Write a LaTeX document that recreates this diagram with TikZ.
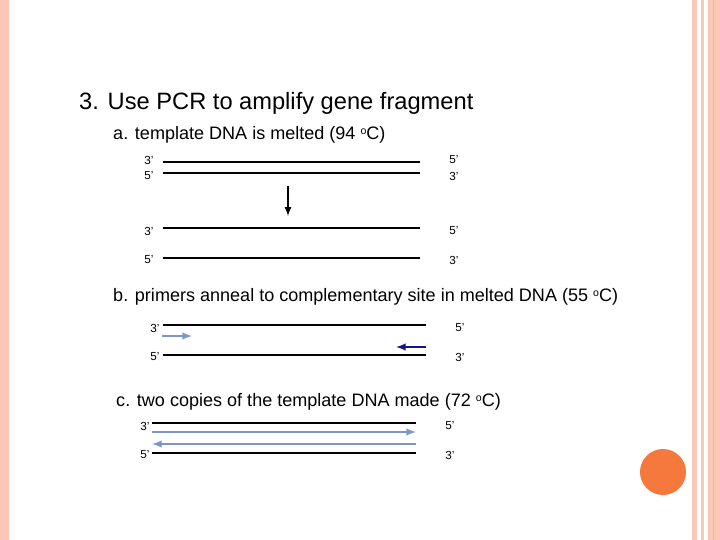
\documentclass[tikz,border=0pt]{standalone}
\usepackage{fontspec}
\setmainfont{Liberation Sans}
\usetikzlibrary{positioning}
\definecolor{peach}{RGB}{250,200,180}
\definecolor{primer}{RGB}{125,150,195}
\definecolor{navyp}{RGB}{20,20,140}
\definecolor{dot}{RGB}{245,120,60}
\tikzset{%
  strand/.style = {line width=2.4pt},
  lab/.style    = {font=\fontsize{10}{10}\selectfont, inner sep=0pt},
  head/.style   = {font=\fontsize{15.4}{15.4}\selectfont, anchor=west, inner sep=0pt},
  prim/.style   = {line width=1.8pt, primer, -latex}
}
\begin{document}
\begin{tikzpicture}[x=0.03cm, y=-0.03cm]
  \useasboundingbox (0,0) rectangle (720,540);
  % frame
  \fill[peach] (0,0) rectangle (9,540);
  \fill[peach] (692,0) rectangle (697,540);
  \fill[peach] (701,0) rectangle (704,540);
  \fill[peach] (708,0) rectangle (720,540);
  \draw[peach!70!orange] (713,0) -- (713,540);
  \fill[dot] (663,472) circle (23);

  \node[head, font=\fontsize{20.2}{20.2}\selectfont] (title) at (79,103) {3. Use PCR to amplify gene fragment};

  % a
  \node[head] (ta) at (113,135) {a. template DNA is melted (94 \raisebox{0.5ex}{\fontsize{9}{9}\selectfont o}C)};
  \coordinate (a1l) at (163,162); \coordinate (a1r) at (420,162);
  \coordinate (a2l) at (163,173); \coordinate (a2r) at (420,173);
  \draw[strand] (a1l) -- (a1r);
  \draw[strand] (a2l) -- (a2r);
  \node[lab] at (149,160) {3'}; \node[lab] at (149,176) {5'};
  \node[lab] at (454,160) {5'}; \node[lab] at (454,176) {3'};
  \coordinate (down1) at (288,186); \coordinate (down2) at (288,216);
  \draw[line width=1.6pt, -latex] (down1) -- (down2);
  \coordinate (a3l) at (163,228); \coordinate (a3r) at (420,228);
  \coordinate (a4l) at (163,258); \coordinate (a4r) at (420,258);
  \draw[strand] (a3l) -- (a3r);
  \draw[strand] (a4l) -- (a4r);
  \node[lab] at (149,231) {3'}; \node[lab] at (149,260) {5'};
  \node[lab] at (454,231) {5'}; \node[lab] at (454,260) {3'};

  % b
  \node[head] (tb) at (113,297) {b. primers anneal to complementary site in melted DNA (55 \raisebox{0.5ex}{\fontsize{9}{9}\selectfont o}C)};
  \coordinate (b1l) at (163,325); \coordinate (b1r) at (426,325);
  \coordinate (b2l) at (163,355); \coordinate (b2r) at (426,355);
  \draw[strand] (b1l) -- (b1r);
  \draw[strand] (b2l) -- (b2r);
  \node[lab] at (155,328) {3'}; \node[lab] at (155,357) {5'};
  \node[lab] at (460,328) {5'}; \node[lab] at (460,357) {3'};
  \coordinate (p1a) at (162,336); \coordinate (p1b) at (192,336);
  \coordinate (p2a) at (426,347); \coordinate (p2b) at (396,347);
  \draw[prim] (p1a) -- (p1b);
  \draw[prim, navyp] (p2a) -- (p2b);

  % c
  \node[head] (tc) at (116,402) {c. two copies of the template DNA made (72 \raisebox{0.5ex}{\fontsize{9}{9}\selectfont o}C)};
  \coordinate (c1l) at (152,423); \coordinate (c1r) at (416,423);
  \coordinate (c2l) at (152,453); \coordinate (c2r) at (416,453);
  \draw[strand] (c1l) -- (c1r);
  \draw[strand] (c2l) -- (c2r);
  \node[lab] at (145,426) {3'}; \node[lab] at (145,455) {5'};
  \node[lab] at (450,426) {5'}; \node[lab] at (450,455) {3'};
  \coordinate (e1a) at (152,432); \coordinate (e1b) at (416,432);
  \coordinate (e2a) at (416,444); \coordinate (e2b) at (152,444);
  \draw[prim] (e1a) -- (e1b);
  \draw[prim] (e2a) -- (e2b);
\end{tikzpicture}
\end{document}
